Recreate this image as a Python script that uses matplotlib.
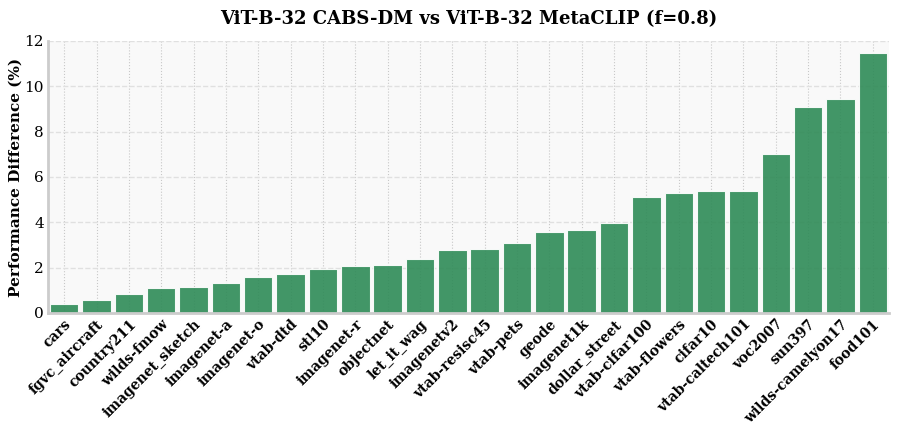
import matplotlib
matplotlib.use("Agg")
import matplotlib.pyplot as plt

datasets = ["cars", "fgvc_aircraft", "country211", "wilds-fmow", "imagenet_sketch",
            "imagenet-a", "imagenet-o", "vtab-dtd", "stl10", "imagenet-r", "objectnet",
            "let_it_wag", "imagenetv2", "vtab-resisc45", "vtab-pets", "geode", "imagenet1k",
            "dollar_street", "vtab-cifar100", "vtab-flowers", "cifar10", "vtab-caltech101",
            "voc2007", "sun397", "wilds-camelyon17", "food101"]
values = [0.40, 0.59, 0.85, 1.12, 1.16, 1.31, 1.57, 1.72, 1.96, 2.09, 2.13,
          2.39, 2.80, 2.83, 3.08, 3.59, 3.68, 3.95, 5.13, 5.29, 5.40, 5.40,
          7.03, 9.10, 9.44, 11.49]
yticks = [0, 2, 4, 6, 8, 10, 12]

plt.rcParams['font.family'] = ['DejaVu Serif']
fig = plt.figure(figsize=(8.97, 4.28), dpi=100)
ax = fig.add_axes([48/897, 1-313/428, (889-48)/897, (313-41)/428])
ax.set_facecolor('#f9f9f9')
x = list(range(len(datasets)))
ax.bar(x, values, width=0.88, color='#2e8b57', alpha=0.9, edgecolor='white', linewidth=0.8, zorder=3)
ax.set_xlim(-0.5, len(datasets) - 0.5)
ax.set_ylim(0, 12)
ax.set_yticks(yticks)
ax.set_yticklabels([str(v) for v in yticks], fontsize=11)
ax.set_xticks(x)
ax.set_xticklabels(datasets, rotation=45, ha='right', rotation_mode='anchor', fontsize=10, fontweight='bold')
ax.tick_params(axis='both', length=0, pad=3)
ax.grid(axis='y', linestyle='--', color='#e0e0e0', linewidth=1.0, zorder=0)
ax.grid(axis='x', linestyle=':', color='#c8c8c8', linewidth=0.8, zorder=0)
for s in ['top', 'right']:
    ax.spines[s].set_visible(False)
for s in ['left', 'bottom']:
    ax.spines[s].set_color('#cccccc')
    ax.spines[s].set_linewidth(2)
    ax.spines[s].set_zorder(4)
ax.set_ylabel('Performance Difference (%)', fontsize=11, fontweight='bold')
ax.yaxis.set_label_coords(-25/841, 0.5)
ax.set_title('ViT-B-32 CABS-DM vs ViT-B-32 MetaCLIP (f=0.8)', fontsize=13, fontweight='bold', pad=12)
fig.savefig('out.png', dpi=100)
